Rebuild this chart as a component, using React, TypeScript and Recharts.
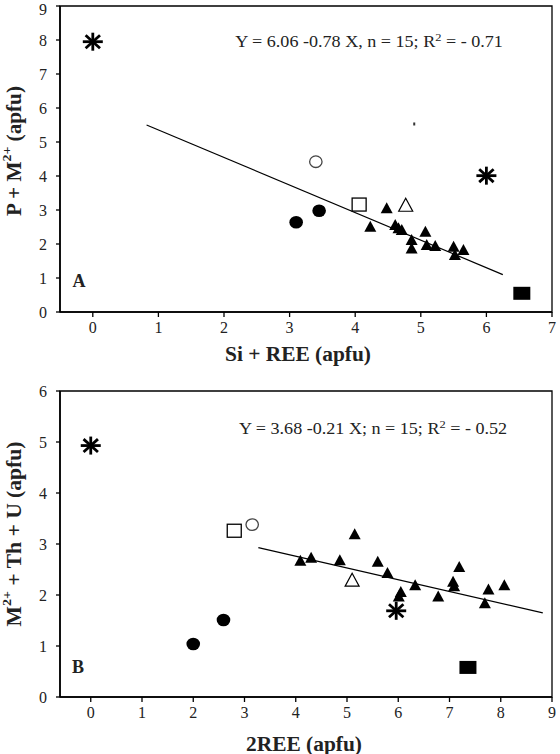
import React from "react"
import { ScatterChart, Scatter, XAxis, YAxis, ReferenceArea } from "recharts"

const SERIF = '"Liberation Serif", "Times New Roman", serif'

// panel A: Si + REE vs P + M2+
const A_X_TICKS = [0, 1, 2, 3, 4, 5, 6, 7]
const A_Y_TICKS = [0, 1, 2, 3, 4, 5, 6, 7, 8, 9]
const A_STARS = [{ x: 0, y: 7.95 }, { x: 6.0, y: 4.01 }]
const A_OPEN_CIRCLE = [{ x: 3.4, y: 4.42 }]
const A_DOTS = [{ x: 3.1, y: 2.64 }, { x: 3.45, y: 2.98 }]
const A_OPEN_SQUARE = [{ x: 4.06, y: 3.16 }]
const A_OPEN_TRIANGLE = [{ x: 4.77, y: 3.14 }]
const A_SQUARE = [{ x: 6.54, y: 0.55 }]
const A_TRIANGLES = [
  { x: 4.23, y: 2.51 },
  { x: 4.48, y: 3.05 },
  { x: 4.61, y: 2.56 },
  { x: 4.66, y: 2.46 },
  { x: 4.71, y: 2.41 },
  { x: 4.86, y: 2.12 },
  { x: 4.86, y: 1.87 },
  { x: 5.07, y: 2.36 },
  { x: 5.09, y: 1.97 },
  { x: 5.22, y: 1.94 },
  { x: 5.5, y: 1.92 },
  { x: 5.52, y: 1.68 },
  { x: 5.65, y: 1.82 },
]
const A_SPECK = [{ x: 4.9, y: 5.53 }]
const A_FIT = [{ x: 0.82, y: 5.5 }, { x: 6.25, y: 1.1 }]

// panel B: 2REE vs M2+ + Th + U
const B_X_TICKS = [0, 1, 2, 3, 4, 5, 6, 7, 8, 9]
const B_Y_TICKS = [0, 1, 2, 3, 4, 5, 6]
const B_STARS = [{ x: 0, y: 4.93 }, { x: 5.96, y: 1.69 }]
const B_OPEN_CIRCLE = [{ x: 3.15, y: 3.38 }]
const B_DOTS = [{ x: 2.0, y: 1.04 }, { x: 2.59, y: 1.51 }]
const B_OPEN_SQUARE = [{ x: 2.8, y: 3.26 }]
const B_OPEN_TRIANGLE = [{ x: 5.1, y: 2.29 }]
const B_SQUARE = [{ x: 7.36, y: 0.58 }]
const B_TRIANGLES = [
  { x: 4.09, y: 2.67 },
  { x: 4.3, y: 2.73 },
  { x: 4.86, y: 2.68 },
  { x: 5.15, y: 3.19 },
  { x: 5.6, y: 2.65 },
  { x: 5.79, y: 2.43 },
  { x: 6.05, y: 2.06 },
  { x: 6.01, y: 1.97 },
  { x: 6.33, y: 2.19 },
  { x: 6.78, y: 1.97 },
  { x: 7.07, y: 2.26 },
  { x: 7.09, y: 2.17 },
  { x: 7.19, y: 2.55 },
  { x: 7.69, y: 1.84 },
  { x: 7.76, y: 2.11 },
  { x: 8.07, y: 2.19 },
]
const B_FIT = [{ x: 3.27, y: 2.93 }, { x: 8.82, y: 1.65 }]

type P = { cx?: number; cy?: number }

// the source image is a little stretched sideways, so marks and text get a wider x
const Star = ({ cx = 0, cy = 0 }: P) => {
  const ry = 9
  const rx = 10
  const dy = ry * 0.72
  const dx = rx * 0.72
  return (
    <g stroke="#000" strokeWidth={2.8}>
      <line x1={cx} y1={cy - ry} x2={cx} y2={cy + ry} />
      <line x1={cx - rx} y1={cy} x2={cx + rx} y2={cy} />
      <line x1={cx - dx} y1={cy - dy} x2={cx + dx} y2={cy + dy} />
      <line x1={cx - dx} y1={cy + dy} x2={cx + dx} y2={cy - dy} />
    </g>
  )
}
const Dot = ({ cx = 0, cy = 0 }: P) => <ellipse cx={cx} cy={cy} rx={6.8} ry={6.3} fill="#000" />
const OpenCircle = ({ cx = 0, cy = 0 }: P) => (
  <ellipse cx={cx} cy={cy} rx={6.2} ry={5.8} fill="#fff" stroke="#444" strokeWidth={1.3} />
)
const OpenSquare = ({ cx = 0, cy = 0 }: P) => (
  <rect x={cx - 7} y={cy - 6.5} width={14} height={13} fill="#fff" stroke="#000" strokeWidth={1.3} />
)
const Square = ({ cx = 0, cy = 0 }: P) => (
  <rect x={cx - 8.5} y={cy - 6.5} width={17} height={13} fill="#000" />
)
const Tri = ({ cx = 0, cy = 0 }: P) => (
  <path d={`M${cx},${cy - 6} L${cx + 6},${cy + 5} L${cx - 6},${cy + 5} Z`} fill="#000" />
)
const OpenTri = ({ cx = 0, cy = 0 }: P) => (
  <path
    d={`M${cx},${cy - 7} L${cx + 7},${cy + 6} L${cx - 7},${cy + 6} Z`}
    fill="#fff"
    stroke="#000"
    strokeWidth={1.2}
  />
)
const Speck = ({ cx = 0, cy = 0 }: P) => <rect x={cx - 1} y={cy - 1.5} width={2} height={3} fill="#333" />
const Nothing = () => <g />

const tickStyle = { fill: "#222", fontSize: 16, fontFamily: SERIF }
const axisLine = { stroke: "#000", strokeWidth: 1.6 }

function YTitle(props: any, parts: React.ReactNode, shift: number, length: number) {
  const vb = props.viewBox || {}
  const cx = 14
  const cy = vb.y + vb.height / 2 + shift
  return (
    <text
      x={cx}
      y={cy}
      transform={`rotate(-90 ${cx} ${cy})`}
      textAnchor="middle"
      dominantBaseline="central"
      fontFamily={SERIF}
      fontWeight="bold"
      fontSize={20}
      textLength={length}
      lengthAdjust="spacingAndGlyphs"
      fill="#222"
    >
      {parts}
    </text>
  )
}

function XTitle(props: any, text: string, dx: number, dy: number, length: number) {
  const vb = props.viewBox || {}
  return (
    <text
      x={vb.x + vb.width / 2 + dx}
      y={vb.y + dy}
      textAnchor="middle"
      dominantBaseline="central"
      fontFamily={SERIF}
      fontWeight="bold"
      fontSize={20}
      textLength={length}
      lengthAdjust="spacingAndGlyphs"
      fill="#222"
    >
      {text}
    </text>
  )
}

type Pt = { x: number; y: number }
type PanelProps = {
  height: number
  top: number
  xAxisHeight: number
  xDomain: [number, number]
  yDomain: [number, number]
  xTicks: number[]
  yTicks: number[]
  xTitle: (p: any) => React.ReactNode
  yTitle: (p: any) => React.ReactNode
  stars: Pt[]
  openCircle: Pt[]
  dots: Pt[]
  openSquare: Pt[]
  openTriangle: Pt[]
  square: Pt[]
  triangles: Pt[]
  fit: Pt[]
  speck?: Pt[]
}

function Panel(p: PanelProps) {
  return (
    <ScatterChart
      width={560}
      height={p.height}
      margin={{ top: p.top, right: 8, left: 0, bottom: 0 }}
    >
      <XAxis
        type="number"
        dataKey="x"
        domain={p.xDomain}
        ticks={p.xTicks}
        allowDataOverflow
        height={p.xAxisHeight}
        tickSize={5}
        tickMargin={5}
        tick={tickStyle}
        axisLine={axisLine}
        tickLine={{ stroke: "#000", strokeWidth: 1.3 }}
        label={{ content: p.xTitle }}
      />
      <YAxis
        type="number"
        dataKey="y"
        domain={p.yDomain}
        ticks={p.yTicks}
        allowDataOverflow
        width={60}
        tickSize={4}
        tickMargin={9}
        tick={tickStyle}
        axisLine={axisLine}
        tickLine={{ stroke: "#000", strokeWidth: 1.3 }}
        label={{ content: p.yTitle }}
      />
      <ReferenceArea
        x1={p.xDomain[0]}
        x2={p.xDomain[1]}
        y1={p.yDomain[0]}
        y2={p.yDomain[1]}
        fill="none"
        fillOpacity={0}
        stroke="#000"
        strokeWidth={1.3}
      />
      <Scatter data={p.fit} line={{ stroke: "#000", strokeWidth: 1.2 }} shape={Nothing} isAnimationActive={false} />
      {p.speck ? <Scatter data={p.speck} shape={Speck} isAnimationActive={false} /> : null}
      <Scatter data={p.stars} shape={Star} isAnimationActive={false} />
      <Scatter data={p.openCircle} shape={OpenCircle} isAnimationActive={false} />
      <Scatter data={p.dots} shape={Dot} isAnimationActive={false} />
      <Scatter data={p.openSquare} shape={OpenSquare} isAnimationActive={false} />
      <Scatter data={p.openTriangle} shape={OpenTri} isAnimationActive={false} />
      <Scatter data={p.square} shape={Square} isAnimationActive={false} />
      <Scatter data={p.triangles} shape={Tri} isAnimationActive={false} />
    </ScatterChart>
  )
}

const noteStyle: React.CSSProperties = {
  position: "absolute",
  fontFamily: SERIF,
  fontSize: 16,
  color: "#222",
  whiteSpace: "nowrap",
  transform: "translate(-50%, -50%) scaleX(1.13)",
}
const letterStyle: React.CSSProperties = {
  ...noteStyle,
  fontSize: 18,
  fontWeight: "bold",
  transform: "translate(-50%, -50%)",
}

export default function App() {
  return (
    <div
      style={{
        position: "absolute",
        left: 0,
        top: 0,
        width: 560,
        height: 754,
        background: "#fff",
        overflow: "hidden",
      }}
    >
      <div style={{ position: "absolute", left: 0, top: 0 }}>
        <Panel
          height={377}
          top={6}
          xAxisHeight={65}
          xDomain={[-0.5, 7]}
          yDomain={[0, 9]}
          xTicks={A_X_TICKS}
          yTicks={A_Y_TICKS}
          xTitle={(pr) => XTitle(pr, "Si + REE (apfu)", -8, 42, 146)}
          yTitle={(pr) =>
            YTitle(
              pr,
              <>
                <tspan>P + M</tspan>
                <tspan dy={-8} fontSize={13}>2+</tspan>
                <tspan dy={8}> (apfu)</tspan>
              </>,
              -8,
              130
            )
          }
          stars={A_STARS}
          openCircle={A_OPEN_CIRCLE}
          dots={A_DOTS}
          openSquare={A_OPEN_SQUARE}
          openTriangle={A_OPEN_TRIANGLE}
          square={A_SQUARE}
          triangles={A_TRIANGLES}
          fit={A_FIT}
          speck={A_SPECK}
        />
      </div>
      <div style={{ position: "absolute", left: 0, top: 377 }}>
        <Panel
          height={377}
          top={14}
          xAxisHeight={57}
          xDomain={[-0.6, 9]}
          yDomain={[0, 6]}
          xTicks={B_X_TICKS}
          yTicks={B_Y_TICKS}
          xTitle={(pr) => XTitle(pr, "2REE (apfu)", -2, 47, 116)}
          yTitle={(pr) =>
            YTitle(
              pr,
              <>
                <tspan>M</tspan>
                <tspan dy={-8} fontSize={13}>2+</tspan>
                <tspan dy={8}> + Th + U (apfu)</tspan>
              </>,
              -10,
              185
            )
          }
          stars={B_STARS}
          openCircle={B_OPEN_CIRCLE}
          dots={B_DOTS}
          openSquare={B_OPEN_SQUARE}
          openTriangle={B_OPEN_TRIANGLE}
          square={B_SQUARE}
          triangles={B_TRIANGLES}
          fit={B_FIT}
        />
      </div>
      <div style={{ ...noteStyle, left: 369, top: 41 }}>
        Y = 6.06 -0.78 X, n = 15; R<sup style={{ fontSize: 11 }}>2</sup> = - 0.71
      </div>
      <div style={{ ...noteStyle, left: 373, top: 428 }}>
        Y = 3.68 -0.21 X; n = 15; R<sup style={{ fontSize: 11 }}>2</sup> = - 0.52
      </div>
      <div style={{ ...letterStyle, left: 79, top: 281 }}>A</div>
      <div style={{ ...letterStyle, left: 78, top: 667 }}>B</div>
    </div>
  )
}
